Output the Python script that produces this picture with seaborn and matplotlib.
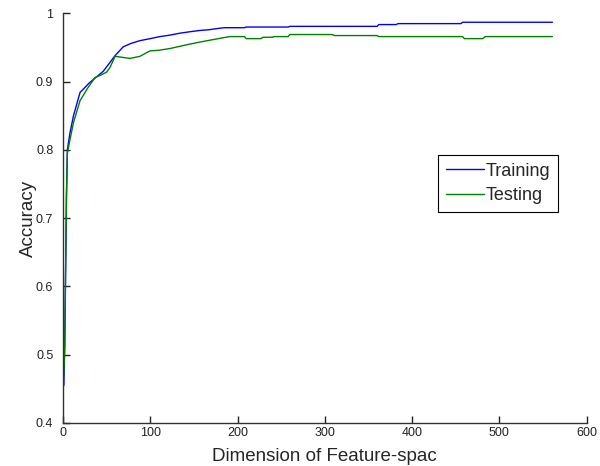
import matplotlib
matplotlib.use("Agg")
import matplotlib.pyplot as plt
import seaborn as sns
import pandas as pd
from matplotlib import font_manager

# Breakpoints (feature-space dimension vs accuracy)
train_x = [1, 2, 3, 4, 5, 8, 12, 19.5, 30, 46, 52, 59.6, 69, 78, 88, 100, 111,
           122, 134, 145, 157, 167, 178, 185, 208, 210, 258, 260, 360, 362, 382,
           384, 456, 458, 561]
train_y = [0.455, 0.514, 0.625, 0.735, 0.800, 0.825, 0.850, 0.884, 0.898, 0.915,
           0.925, 0.938, 0.951, 0.956, 0.960, 0.963, 0.966, 0.968, 0.971, 0.973,
           0.975, 0.976, 0.978, 0.979, 0.979, 0.980, 0.980, 0.981, 0.981, 0.9836,
           0.9836, 0.985, 0.985, 0.987, 0.987]

test_x = [1, 2, 3, 4, 5, 8, 12, 19.5, 28, 36.7, 44, 50, 54, 59.6, 66, 76.7, 88,
          99.7, 110, 122.6, 141.7, 157, 178, 191, 208, 210, 227, 229, 240, 242,
          258, 260, 309, 311, 360, 362, 458, 460, 481, 484, 561]
test_y = [0.470, 0.514, 0.625, 0.735, 0.795, 0.815, 0.840, 0.872, 0.890, 0.906,
          0.910, 0.914, 0.921, 0.937, 0.936, 0.934, 0.937, 0.945, 0.946, 0.9485,
          0.954, 0.958, 0.963, 0.966, 0.966, 0.963, 0.963, 0.965, 0.965, 0.966,
          0.966, 0.969, 0.969, 0.9675, 0.9675, 0.966, 0.966, 0.963, 0.963, 0.966,
          0.966]

x_ticks = [0, 100, 200, 300, 400, 500, 600]
y_ticks = [0.4, 0.5, 0.6, 0.7, 0.8, 0.9, 1.0]
y_tick_labels = ["0.4", "0.5", "0.6", "0.7", "0.8", "0.9", "1"]

df = pd.concat([
    pd.DataFrame({"dim": train_x, "acc": train_y, "set": "Training"}),
    pd.DataFrame({"dim": test_x, "acc": test_y, "set": "Testing"}),
], ignore_index=True)

sns.set_style("ticks")
plt.rcParams["font.family"] = ["Liberation Sans", "DejaVu Sans"]

available = {f.name for f in font_manager.fontManager.ttflist}
tick_family = ["Liberation Sans Narrow", "Liberation Sans"] if "Liberation Sans Narrow" in available else ["Liberation Sans"]

fig = plt.figure(figsize=(6.0, 4.66), dpi=100)
ax = fig.add_axes([0.105, 0.0923, 0.8725, 0.879])

sns.lineplot(data=df, x="dim", y="acc", hue="set",
             palette={"Training": "#0000ff", "Testing": "#008000"},
             linewidth=1.0, ax=ax, estimator=None, sort=False)

ax.set_xlim(0, 600)
ax.set_ylim(0.4, 1.0)
ax.set_xticks(x_ticks)
ax.set_xticklabels([str(t) for t in x_ticks])
ax.set_yticks(y_ticks)
ax.set_yticklabels(y_tick_labels)
ax.tick_params(direction="in", length=5, width=1, labelsize=9, colors="#222222")
ax.tick_params(axis="y", pad=7)
ax.tick_params(axis="x", pad=3)
for lab in ax.get_xticklabels() + ax.get_yticklabels():
    lab.set_family(tick_family)
for s in ["top", "right"]:
    ax.spines[s].set_visible(False)
for s in ["left", "bottom"]:
    ax.spines[s].set_color("#333333")
    ax.spines[s].set_linewidth(1.0)

ax.set_xlabel("Dimension of Feature-spac", fontsize=13.5, labelpad=6.5)
ax.set_ylabel("Accuracy", fontsize=13.5, labelpad=-1)

leg = ax.legend(loc="upper left", bbox_to_anchor=(0.716, 0.655), fontsize=13,
                frameon=True, fancybox=False, framealpha=1, edgecolor="black",
                handlelength=2.1, handletextpad=0.1, borderpad=0.45,
                labelspacing=0.4, borderaxespad=0, title=None)
leg.get_frame().set_linewidth(0.8)

fig.savefig("out.png", dpi=100)
